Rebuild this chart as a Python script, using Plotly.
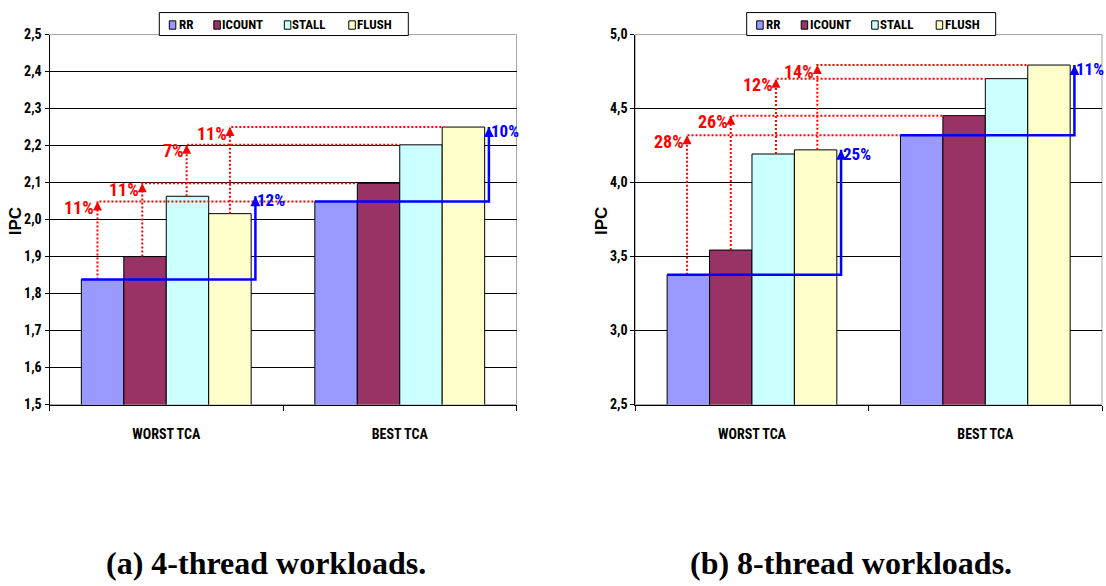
import plotly.graph_objects as go

# ---------------- data ----------------
CATEGORIES = ["WORST TCA", "BEST TCA"]
SERIES = ["RR", "ICOUNT", "STALL", "FLUSH"]
COLORS = ["#9999FF", "#993366", "#CCFFFF", "#FFFFCC"]

IPC_4T_WORST = [1.838, 1.900, 2.063, 2.016]
IPC_4T_BEST = [2.049, 2.098, 2.202, 2.250]
IPC_8T_WORST = [3.377, 3.544, 4.193, 4.221]
IPC_8T_BEST = [4.320, 4.452, 4.702, 4.794]

# red: best TCA vs worst TCA per policy ; blue: best policy vs RR per category
GAIN_4T_RED = ["11%", "11%", "7%", "11%"]
GAIN_4T_BLUE = ["12%", "10%"]
GAIN_8T_RED = ["28%", "26%", "12%", "14%"]
GAIN_8T_BLUE = ["25%", "11%"]

Y_RANGE_4T = [1.5, 2.5]
Y_STEP_4T = 0.1
Y_RANGE_8T = [2.5, 5.0]
Y_STEP_8T = 0.5

CAPTIONS = ["(a) 4-thread workloads.", "(b) 8-thread workloads."]
Y_TITLE = "IPC"

# ---------------- style / layout ----------------
W, H = 1106, 586
NARROW = "Liberation Sans Narrow, Arial Narrow, Roboto Condensed, Liberation Sans, sans-serif"
SANS = "Liberation Sans, Arial, sans-serif"
SERIF = "Liberation Serif, Times New Roman, serif"
GAP = 1.5 / 5.5
GROUP = 1 - GAP
BW = GROUP / len(SERIES)
PLOT_TOP, PLOT_BOT = 27.3, 407.7


def px(x):
    return x / W


def py(y):
    return 1 - y / H


panels = [
    dict(worst=IPC_4T_WORST, best=IPC_4T_BEST, red=GAIN_4T_RED, blue=GAIN_4T_BLUE,
         yrange=Y_RANGE_4T, ystep=Y_STEP_4T, left=49.5, right=516.5,
         legend_left=159.3, caption_cx=265.5, title_cx=15.2,
         nudge=[-0.12, -0.065, -0.02, 0.0]),
    dict(worst=IPC_8T_WORST, best=IPC_8T_BEST, red=GAIN_8T_RED, blue=GAIN_8T_BLUE,
         yrange=Y_RANGE_8T, ystep=Y_STEP_8T, left=635.3, right=1102.0,
         legend_left=746.7, caption_cx=850.5, title_cx=601.0,
         nudge=[-0.03, 0.0, 0.065, 0.04]),
]

fig = go.Figure()
annotations = []
shapes = []
xpos = list(range(len(CATEGORIES)))

for p_i, p in enumerate(panels):
    sfx = "" if p_i == 0 else str(p_i + 1)
    xa, ya = "x" + sfx, "y" + sfx
    offsets = [-GROUP / 2 + i * BW for i in range(len(SERIES))]

    # bars
    for i, name in enumerate(SERIES):
        fig.add_trace(go.Bar(
            x=xpos, y=[p["worst"][i], p["best"][i]], name=name,
            width=BW, offset=offsets[i],
            marker=dict(color=COLORS[i], line=dict(color="#000000", width=1)),
            xaxis=xa, yaxis=ya, showlegend=False, hoverinfo="x+y+name"))

    # red dotted arrows: worst -> best for each policy
    for i in range(len(SERIES)):
        xl = xpos[0] + offsets[i] + BW / 2 + p["nudge"][i] * BW
        xb = xpos[1] + offsets[i]
        yw, yb = p["worst"][i], p["best"][i]
        fig.add_trace(go.Scatter(
            x=[xl, xl, xb], y=[yw, yb, yb], mode="lines",
            line=dict(color="#FF0000", width=2, dash="2px,2px"),
            xaxis=xa, yaxis=ya, showlegend=False, hoverinfo="skip"))
        annotations.append(dict(
            x=xl, y=yb, xref=xa, yref=ya, text="", showarrow=True,
            ax=0, ay=8, arrowhead=2, arrowsize=1.2, arrowwidth=1.5,
            arrowcolor="#FF0000", standoff=0))
        annotations.append(dict(
            x=xl, y=yb, xref=xa, yref=ya, text=p["red"][i], showarrow=False,
            xanchor="right", yanchor="middle", xshift=-1, yshift=-6,
            font=dict(family=NARROW, size=18, color="#FF0000", weight="bold")))

    # blue step arrows: RR -> best policy inside each category
    for c in range(len(CATEGORIES)):
        vals = p["worst"] if c == 0 else p["best"]
        xs = xpos[c] + offsets[0]
        xe = xpos[c] + offsets[-1] + BW * 1.1
        y0, ytip = vals[0], max(vals)
        fig.add_trace(go.Scatter(
            x=[xs, xe, xe], y=[y0, y0, ytip], mode="lines",
            line=dict(color="#0000FF", width=2.5),
            xaxis=xa, yaxis=ya, showlegend=False, hoverinfo="skip"))
        annotations.append(dict(
            x=xe, y=ytip, xref=xa, yref=ya, text="", showarrow=True,
            ax=0, ay=8, arrowhead=2, arrowsize=1.0, arrowwidth=2,
            arrowcolor="#0000FF", standoff=0))
        annotations.append(dict(
            x=xe, y=ytip, xref=xa, yref=ya, text=p["blue"][c], showarrow=False,
            xanchor="left", yanchor="middle", xshift=0, yshift=-4,
            font=dict(family=NARROW, size=17, color="#0000FF", weight="bold")))

    # axes
    dom_x = [px(p["left"]), px(p["right"])]
    dom_y = [py(PLOT_BOT), py(PLOT_TOP)]
    fig.update_layout(**{
        ("xaxis" + sfx): dict(
            domain=dom_x, range=[-0.5, len(CATEGORIES) - 0.5],
            tickvals=xpos, ticktext=CATEGORIES, ticks="",
            ticklabelstandoff=17,
            tickfont=dict(family=NARROW, size=14, color="#000000", weight="bold"),
            showgrid=False, zeroline=False, showline=True,
            linecolor="#000000", linewidth=1,
            minor=dict(tickvals=[-0.5, 0.5, 1.5], ticks="outside", ticklen=5,
                       tickcolor="#000000", tickwidth=1, showgrid=False),
            anchor=ya, fixedrange=True),
        ("yaxis" + sfx): dict(
            domain=dom_y, range=p["yrange"], dtick=p["ystep"], tick0=p["yrange"][0],
            tickformat=".1f", ticks="outside", ticklen=4, tickcolor="#000000",
            tickfont=dict(family=NARROW, size=14, color="#000000", weight="bold"),
            showgrid=True, gridcolor="#000000", gridwidth=1, zeroline=False,
            showline=True, linecolor="#000000", linewidth=1,
            anchor=xa, fixedrange=True),
    })

    # plot-area frame (light gray right/top)
    shapes.append(dict(type="rect", xref=xa + " domain", yref=ya + " domain",
                       x0=0, x1=1, y0=0, y1=1, layer="below",
                       line=dict(color="#A6A6A6", width=1)))

    # y axis title
    annotations.append(dict(
        x=px(p["title_cx"]), y=py((PLOT_TOP + PLOT_BOT) / 2 + 1.5), xref="paper", yref="paper",
        text=Y_TITLE, textangle=-90, showarrow=False, xanchor="center", yanchor="middle",
        font=dict(family=SANS, size=17, color="#000000", weight="bold")))

    # caption
    annotations.append(dict(
        x=px(p["caption_cx"]), y=py(571), xref="paper", yref="paper",
        text=CAPTIONS[p_i], showarrow=False, xanchor="center", yanchor="middle",
        font=dict(family=SERIF, size=32, color="#000000", weight="bold")))

    # legend box
    L = p["legend_left"]
    shapes.append(dict(type="rect", xref="paper", yref="paper",
                       x0=px(L), x1=px(L + 249), y0=py(28.3), y1=py(4.7),
                       fillcolor="#FFFFFF", line=dict(color="#000000", width=1), layer="above"))
    sw_off = [10.0, 54.5, 125.0, 189.5]
    tx_off = [17.4, 61.0, 131.0, 196.0]
    for i, name in enumerate(SERIES):
        shapes.append(dict(type="rect", xref="paper", yref="paper",
                           x0=px(L + sw_off[i]), x1=px(L + sw_off[i] + 6.5),
                           y0=py(21.8), y1=py(13.2), fillcolor=COLORS[i],
                           line=dict(color="#000000", width=1), layer="above"))
        annotations.append(dict(
            x=px(L + tx_off[i]), y=py(17.3), xref="paper", yref="paper",
            text=name, showarrow=False, xanchor="left", yanchor="middle",
            font=dict(family=NARROW, size=13, color="#000000", weight="bold")))

fig.update_layout(
    width=W, height=H, margin=dict(l=0, r=0, t=0, b=0),
    paper_bgcolor="#FFFFFF", plot_bgcolor="#FFFFFF",
    separators=",.", barmode="overlay", showlegend=False,
    annotations=annotations, shapes=shapes,
)

fig.write_html("out.html")
